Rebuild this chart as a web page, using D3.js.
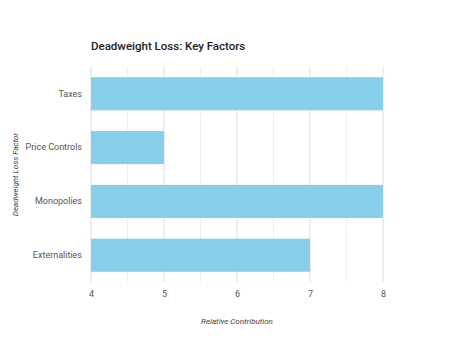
<!DOCTYPE html>
<html><head><meta charset="utf-8">
<script src="https://cdn.jsdelivr.net/npm/d3@7"></script>
<style>body{margin:0;background:#fff;} svg{display:block;font-family:Roboto,sans-serif;}</style>
</head><body>
<svg id="c" width="474" height="348"></svg>
<script>
const categories = ["Taxes", "Price Controls", "Monopolies", "Externalities"];
const values = [8, 5, 8, 7];
const xTicks = [4, 5, 6, 7, 8];
const minorTicks = [4.5, 5.5, 6.5, 7.5];
const title = "Deadweight Loss: Key Factors";
const xTitle = "Relative Contribution";
const yTitle = "Deadweight Loss Factor";

const svg = d3.select("#c");
const m = {l: 91, r: 91, t: 67, b: 66};
const W = 474, H = 348;
const x = d3.scaleLinear().domain([4, 8]).range([m.l, W - m.r]);
const y = d3.scaleBand().domain(categories).range([m.t, H - m.b]).paddingInner(0.385).paddingOuter(0.19);

// grid
svg.append("g").selectAll("line").data(minorTicks).join("line")
  .attr("x1", d => x(d)).attr("x2", d => x(d)).attr("y1", m.t).attr("y2", H - m.b)
  .attr("stroke", "#eeeeee").attr("stroke-width", 1);
svg.append("g").selectAll("line").data(xTicks).join("line")
  .attr("x1", d => x(d)).attr("x2", d => x(d)).attr("y1", m.t).attr("y2", H - m.b)
  .attr("stroke", "#dddddd").attr("stroke-width", 1);

// bars
svg.append("g").selectAll("rect").data(categories).join("rect")
  .attr("x", x(4)).attr("y", d => y(d))
  .attr("width", (d, i) => x(values[i]) - x(4)).attr("height", y.bandwidth())
  .attr("fill", "#87CEEB");

// x axis
const xa = svg.append("g").attr("transform", `translate(0,${H - m.b})`)
  .call(d3.axisBottom(x).tickValues(xTicks).tickSize(0).tickPadding(9).tickFormat(d3.format("d")));
xa.select(".domain").remove();
xa.selectAll("text").attr("fill", "#555").style("font-size", "9px").style("font-family", "Roboto");

// y axis
const ya = svg.append("g").attr("transform", `translate(${m.l},0)`)
  .call(d3.axisLeft(y).tickSize(0).tickPadding(9));
ya.select(".domain").remove();
ya.selectAll("text").attr("fill", "#555").style("font-size", "9px").style("font-family", "Roboto");

// titles
svg.append("text").attr("x", m.l).attr("y", 50).text(title)
  .attr("fill", "#222").style("font-size", "11.5px").style("font-weight", "500");
svg.append("text").attr("x", (x(4) + x(8)) / 2).attr("y", 324).attr("text-anchor", "middle")
  .text(xTitle).attr("fill", "#444").style("font-size", "8px").style("font-style", "italic");
svg.append("text").attr("transform", `translate(18,${(m.t + H - m.b) / 2}) rotate(-90)`)
  .attr("text-anchor", "middle").text(yTitle).attr("fill", "#444")
  .style("font-size", "8px").style("font-style", "italic");
</script>
</body></html>
